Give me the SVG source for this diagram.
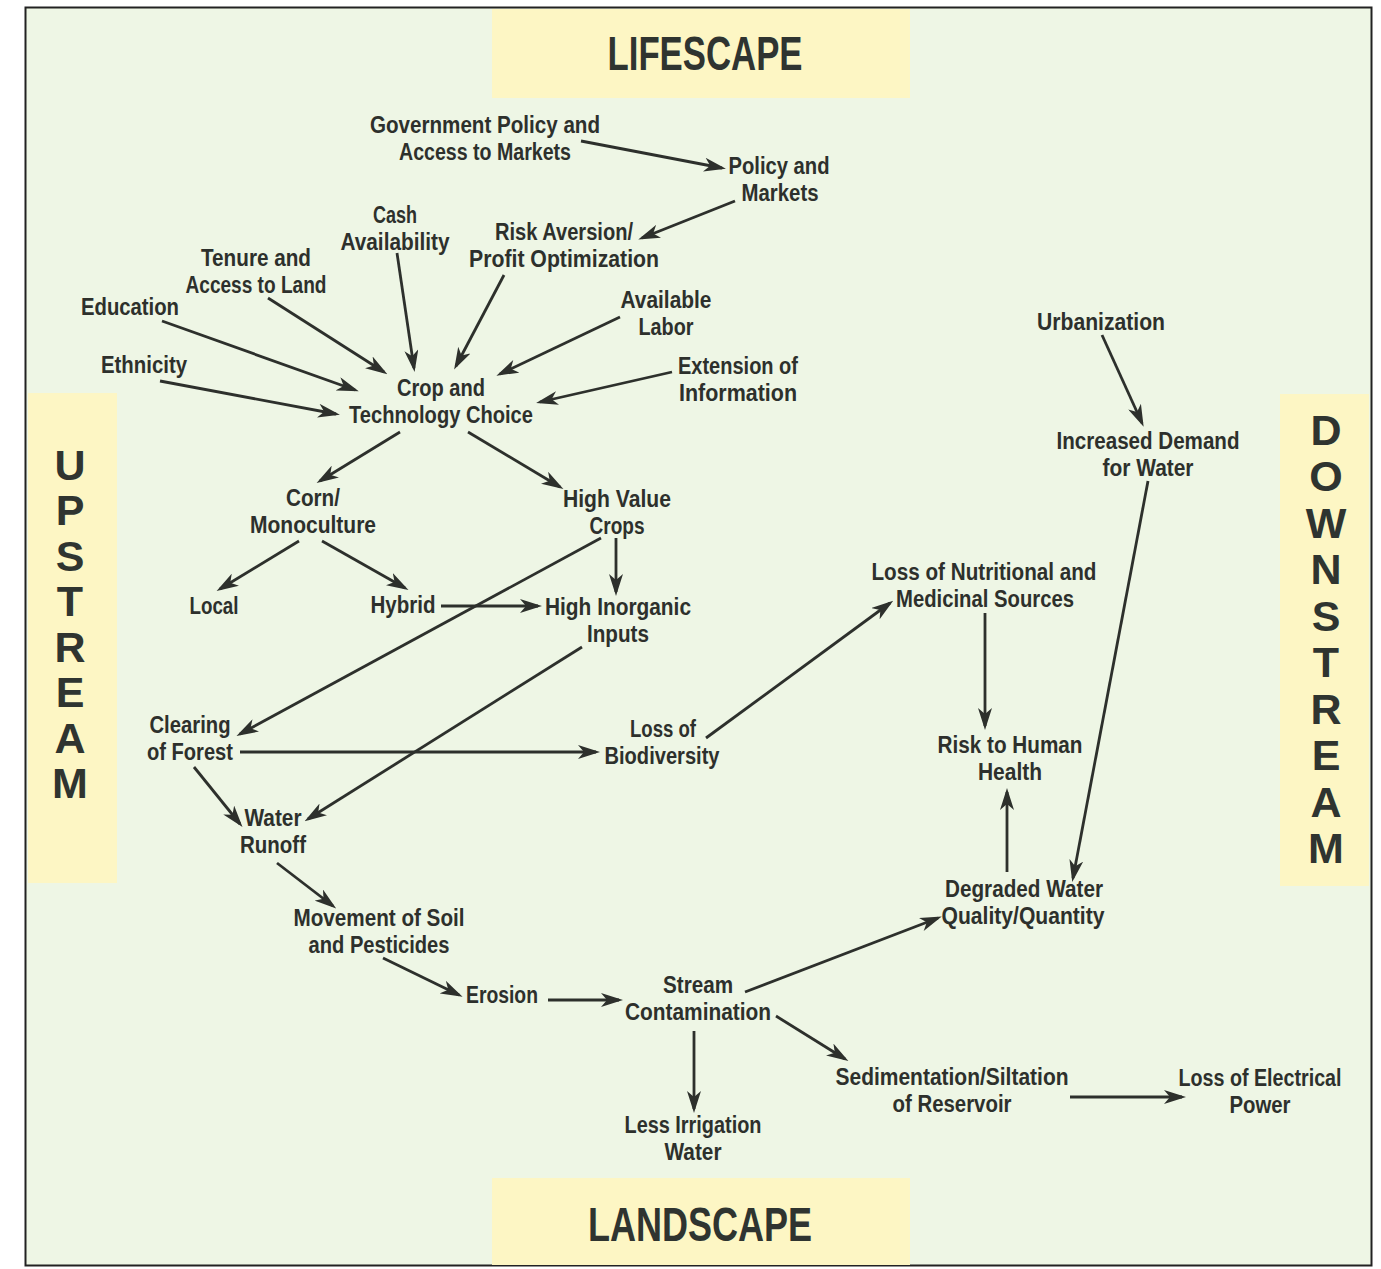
<svg xmlns="http://www.w3.org/2000/svg" width="1381" height="1269" viewBox="0 0 1381 1269">
<style>
.t{font-family:"Liberation Sans",Arial,sans-serif;font-weight:bold;font-size:23px;fill:#2d302c;text-anchor:middle}
.h{font-family:"Liberation Sans",Arial,sans-serif;font-weight:bold;font-size:48px;fill:#2f3430;text-anchor:middle}
.v{font-family:"Liberation Sans",Arial,sans-serif;font-weight:bold;font-size:43px;fill:#2f3430;text-anchor:middle}
.band{fill:#fdf6c4}
.c line{stroke:#2d302c;stroke-width:2.8;marker-end:url(#ah)}
</style>
<defs>
<marker id="ah" viewBox="0 0 22 14" markerWidth="22" markerHeight="14" refX="18" refY="7" orient="auto" markerUnits="userSpaceOnUse">
<path d="M0,0 L22,7 L0,14 L6,7 Z" fill="#2d302c"/>
</marker>
</defs>
<rect x="0" y="0" width="1381" height="1269" fill="#ffffff"/>
<rect x="25.5" y="7.5" width="1346" height="1258" fill="#eef6e5" stroke="#222" stroke-width="2"/>

<g id="band-lifescape">
<rect class="band" x="492" y="9" width="418" height="89"/>
<text class="h" x="705" y="70" textLength="195" lengthAdjust="spacingAndGlyphs">LIFESCAPE</text>
</g>
<g id="band-landscape">
<rect class="band" x="492" y="1178" width="418" height="87"/>
<text class="h" x="700" y="1241" textLength="224" lengthAdjust="spacingAndGlyphs">LANDSCAPE</text>
</g>
<g id="band-upstream">
<rect class="band" x="28" y="393" width="89" height="490"/>
<text class="v" x="70" y="480">U</text>
<text class="v" x="70" y="525.4">P</text>
<text class="v" x="70" y="570.9">S</text>
<text class="v" x="70" y="616.3">T</text>
<text class="v" x="70" y="661.7">R</text>
<text class="v" x="70" y="707.1">E</text>
<text class="v" x="70" y="752.6">A</text>
<text class="v" x="70" y="798">M</text>
</g>
<g id="band-downstream">
<rect class="band" x="1280" y="394" width="89" height="492"/>
<text class="v" x="1326" y="445">D</text>
<text class="v" x="1326" y="491.4">O</text>
<text class="v" x="1326" y="537.9">W</text>
<text class="v" x="1326" y="584.3">N</text>
<text class="v" x="1326" y="630.8">S</text>
<text class="v" x="1326" y="677.2">T</text>
<text class="v" x="1326" y="723.7">R</text>
<text class="v" x="1326" y="770.1">E</text>
<text class="v" x="1326" y="816.6">A</text>
<text class="v" x="1326" y="863">M</text>
</g>

<g class="c" id="connectors">
<line x1="581" y1="141" x2="722" y2="168"/>
<line x1="735" y1="201" x2="642" y2="238"/>
<line x1="397" y1="253" x2="414" y2="368"/>
<line x1="504" y1="275" x2="456" y2="366"/>
<line x1="268" y1="298" x2="384" y2="372"/>
<line x1="162" y1="321" x2="355" y2="390"/>
<line x1="620" y1="317" x2="500" y2="374"/>
<line x1="160" y1="381" x2="336" y2="414"/>
<line x1="672" y1="372" x2="540" y2="402"/>
<line x1="400" y1="432" x2="320" y2="481"/>
<line x1="468" y1="432" x2="560" y2="487"/>
<line x1="299" y1="541" x2="220" y2="589"/>
<line x1="322" y1="541" x2="405" y2="588"/>
<line x1="441" y1="606" x2="538" y2="606"/>
<line x1="616" y1="538" x2="616" y2="592"/>
<line x1="601" y1="538" x2="240" y2="734"/>
<line x1="582" y1="647" x2="308" y2="819"/>
<line x1="240" y1="752" x2="596" y2="752"/>
<line x1="194" y1="767" x2="240" y2="824"/>
<line x1="706" y1="738" x2="890" y2="603"/>
<line x1="277" y1="863" x2="333" y2="906"/>
<line x1="383" y1="958" x2="459" y2="995"/>
<line x1="548" y1="1000" x2="619" y2="1000"/>
<line x1="745" y1="992" x2="938" y2="918"/>
<line x1="776" y1="1016" x2="845" y2="1059"/>
<line x1="694" y1="1031" x2="694" y2="1109"/>
<line x1="1070" y1="1097" x2="1182" y2="1097"/>
<line x1="1007" y1="872" x2="1007" y2="792"/>
<line x1="985" y1="613" x2="985" y2="726"/>
<line x1="1102" y1="335" x2="1142" y2="423"/>
<line x1="1148" y1="481" x2="1073" y2="878"/>
</g>

<g id="n-gov"><text class="t" x="485" y="133" textLength="230" lengthAdjust="spacingAndGlyphs">Government Policy and</text><text class="t" x="485" y="160" textLength="172" lengthAdjust="spacingAndGlyphs">Access to Markets</text></g>
<g id="n-policy"><text class="t" x="779" y="174" textLength="101" lengthAdjust="spacingAndGlyphs">Policy and</text><text class="t" x="780" y="201" textLength="77" lengthAdjust="spacingAndGlyphs">Markets</text></g>
<g id="n-cash"><text class="t" x="395" y="223" textLength="44" lengthAdjust="spacingAndGlyphs">Cash</text><text class="t" x="395" y="250" textLength="109" lengthAdjust="spacingAndGlyphs">Availability</text></g>
<g id="n-risk"><text class="t" x="564" y="240" textLength="138" lengthAdjust="spacingAndGlyphs">Risk Aversion/</text><text class="t" x="564" y="267" textLength="190" lengthAdjust="spacingAndGlyphs">Profit Optimization</text></g>
<g id="n-tenure"><text class="t" x="256" y="266" textLength="110" lengthAdjust="spacingAndGlyphs">Tenure and</text><text class="t" x="256" y="293" textLength="141" lengthAdjust="spacingAndGlyphs">Access to Land</text></g>
<g id="n-education"><text class="t" x="130" y="315" textLength="98" lengthAdjust="spacingAndGlyphs">Education</text></g>
<g id="n-labor"><text class="t" x="666" y="308" textLength="91" lengthAdjust="spacingAndGlyphs">Available</text><text class="t" x="666" y="335" textLength="55" lengthAdjust="spacingAndGlyphs">Labor</text></g>
<g id="n-urban"><text class="t" x="1101" y="330" textLength="128" lengthAdjust="spacingAndGlyphs">Urbanization</text></g>
<g id="n-ethnicity"><text class="t" x="144" y="373" textLength="86" lengthAdjust="spacingAndGlyphs">Ethnicity</text></g>
<g id="n-extension"><text class="t" x="738" y="374" textLength="120" lengthAdjust="spacingAndGlyphs">Extension of</text><text class="t" x="738" y="401" textLength="118" lengthAdjust="spacingAndGlyphs">Information</text></g>
<g id="n-crop"><text class="t" x="441" y="396" textLength="88" lengthAdjust="spacingAndGlyphs">Crop and</text><text class="t" x="441" y="423" textLength="184" lengthAdjust="spacingAndGlyphs">Technology Choice</text></g>
<g id="n-demand"><text class="t" x="1148" y="449" textLength="183" lengthAdjust="spacingAndGlyphs">Increased Demand</text><text class="t" x="1148" y="476" textLength="91" lengthAdjust="spacingAndGlyphs">for Water</text></g>
<g id="n-corn"><text class="t" x="313" y="506" textLength="54" lengthAdjust="spacingAndGlyphs">Corn/</text><text class="t" x="313" y="533" textLength="126" lengthAdjust="spacingAndGlyphs">Monoculture</text></g>
<g id="n-highvalue"><text class="t" x="617" y="507" textLength="108" lengthAdjust="spacingAndGlyphs">High Value</text><text class="t" x="617" y="534" textLength="55" lengthAdjust="spacingAndGlyphs">Crops</text></g>
<g id="n-nutrition"><text class="t" x="984" y="580" textLength="225" lengthAdjust="spacingAndGlyphs">Loss of Nutritional and</text><text class="t" x="985" y="607" textLength="178" lengthAdjust="spacingAndGlyphs">Medicinal Sources</text></g>
<g id="n-local"><text class="t" x="214" y="614" textLength="49" lengthAdjust="spacingAndGlyphs">Local</text></g>
<g id="n-hybrid"><text class="t" x="403" y="613" textLength="65" lengthAdjust="spacingAndGlyphs">Hybrid</text></g>
<g id="n-inorganic"><text class="t" x="618" y="615" textLength="146" lengthAdjust="spacingAndGlyphs">High Inorganic</text><text class="t" x="618" y="642" textLength="62" lengthAdjust="spacingAndGlyphs">Inputs</text></g>
<g id="n-clearing"><text class="t" x="190" y="733" textLength="81" lengthAdjust="spacingAndGlyphs">Clearing</text><text class="t" x="190" y="760" textLength="86" lengthAdjust="spacingAndGlyphs">of Forest</text></g>
<g id="n-biodiv"><text class="t" x="663" y="737" textLength="66" lengthAdjust="spacingAndGlyphs">Loss of</text><text class="t" x="662" y="764" textLength="115" lengthAdjust="spacingAndGlyphs">Biodiversity</text></g>
<g id="n-health"><text class="t" x="1010" y="753" textLength="145" lengthAdjust="spacingAndGlyphs">Risk to Human</text><text class="t" x="1010" y="780" textLength="64" lengthAdjust="spacingAndGlyphs">Health</text></g>
<g id="n-runoff"><text class="t" x="273" y="826" textLength="57" lengthAdjust="spacingAndGlyphs">Water</text><text class="t" x="273" y="853" textLength="66" lengthAdjust="spacingAndGlyphs">Runoff</text></g>
<g id="n-degraded"><text class="t" x="1024" y="897" textLength="158" lengthAdjust="spacingAndGlyphs">Degraded Water</text><text class="t" x="1023" y="924" textLength="163" lengthAdjust="spacingAndGlyphs">Quality/Quantity</text></g>
<g id="n-soil"><text class="t" x="379" y="926" textLength="171" lengthAdjust="spacingAndGlyphs">Movement of Soil</text><text class="t" x="379" y="953" textLength="141" lengthAdjust="spacingAndGlyphs">and Pesticides</text></g>
<g id="n-erosion"><text class="t" x="502" y="1003" textLength="72" lengthAdjust="spacingAndGlyphs">Erosion</text></g>
<g id="n-stream"><text class="t" x="698" y="993" textLength="70" lengthAdjust="spacingAndGlyphs">Stream</text><text class="t" x="698" y="1020" textLength="146" lengthAdjust="spacingAndGlyphs">Contamination</text></g>
<g id="n-sediment"><text class="t" x="952" y="1085" textLength="233" lengthAdjust="spacingAndGlyphs">Sedimentation/Siltation</text><text class="t" x="952" y="1112" textLength="119" lengthAdjust="spacingAndGlyphs">of Reservoir</text></g>
<g id="n-electrical"><text class="t" x="1260" y="1086" textLength="163" lengthAdjust="spacingAndGlyphs">Loss of Electrical</text><text class="t" x="1260" y="1113" textLength="61" lengthAdjust="spacingAndGlyphs">Power</text></g>
<g id="n-irrigation"><text class="t" x="693" y="1133" textLength="137" lengthAdjust="spacingAndGlyphs">Less Irrigation</text><text class="t" x="693" y="1160" textLength="57" lengthAdjust="spacingAndGlyphs">Water</text></g>
</svg>
